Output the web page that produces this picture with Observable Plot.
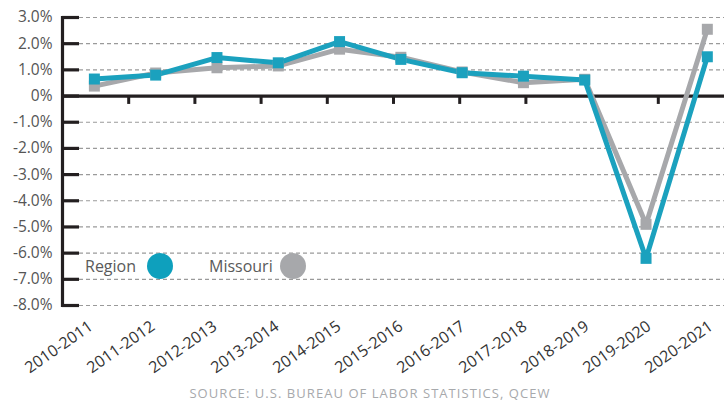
<!DOCTYPE html>
<html>
<head>
<meta charset="utf-8">
<script src="https://cdn.jsdelivr.net/npm/d3@7"></script>
<script src="https://cdn.jsdelivr.net/npm/@observablehq/plot@0.6"></script>
<style>
  html, body { margin: 0; padding: 0; background: #fff; }
  #wrap { position: relative; width: 724px; height: 403px; font-family: "Open Sans", sans-serif; overflow: hidden; }
  #main svg, #labels svg { display: block; overflow: visible; }
  .legend { position: absolute; top: 253px; left: 0; height: 26px; font-size: 16px; color: #5a5a5a; }
  .legend .item { position: absolute; top: 0; white-space: nowrap; line-height: 26px; }
  .legend .sw { position: absolute; top: 0; width: 26px; height: 26px; border-radius: 50%; }
  #caption { position: absolute; left: 0; top: 382px; width: 724px; text-align: center; font-size: 13px; color: #a7a9ac; letter-spacing: 1.05px; padding-left: 16px; box-sizing: border-box; line-height: 22px; }
</style>
</head>
<body>
<div id="wrap">
  <div id="main"></div>
  <div id="labels"></div>
  <div id="caption"></div>
  <div class="legend" id="legend"></div>
</div>
<script>
// ---- data ----
const periods = ["2010-2011","2011-2012","2012-2013","2013-2014","2014-2015","2015-2016","2016-2017","2017-2018","2018-2019","2019-2020","2020-2021"];
const regionValues = [0.65, 0.80, 1.47, 1.27, 2.08, 1.40, 0.89, 0.76, 0.61, -6.2, 1.5];
const missouriValues = [0.38, 0.88, 1.08, 1.15, 1.79, 1.48, 0.92, 0.51, 0.64, -4.9, 2.55];
const seriesNames = ["Region", "Missouri"];
const seriesColors = ["#1ba1be", "#a7a8ab"];
const legendColors = ["#0ea0bd", "#a7a8ab"];
const yTickValues = [3, 2, 1, 0, -1, -2, -3, -4, -5, -6, -7, -8];
const yTickLabels = ["3.0%","2.0%","1.0%","0%","-1.0%","-2.0%","-3.0%","-4.0%","-5.0%","-6.0%","-7.0%","-8.0%"];
const captionText = "SOURCE: U.S. BUREAU OF LABOR STATISTICS, QCEW";

// ---- build table ----
const rows = [];
periods.forEach((p, i) => {
  rows.push({series: "Missouri", i, period: p, value: missouriValues[i]});
});
periods.forEach((p, i) => {
  rows.push({series: "Region", i, period: p, value: regionValues[i]});
});
const colorOf = s => seriesColors[seriesNames.indexOf(s)];

const xd0 = -0.52, xd1 = 10.28;        // index domain of the plot frame
const nBands = 10;
const xTicks = d3.range(1, nBands).map(k => xd0 + k * (xd1 - xd0) / nBands);
const tickLabel = d => yTickLabels[yTickValues.indexOf(d)];
const gridValues = yTickValues.filter(d => d !== 0);

const main = Plot.plot({
  width: 724,
  height: 318,
  marginTop: 17,
  marginBottom: 13,
  marginLeft: 62,
  marginRight: 0,
  x: {type: "linear", domain: [xd0, xd1], axis: null},
  y: {domain: [-8, 3], axis: null},
  style: {fontFamily: "Open Sans, sans-serif"},
  marks: [
    Plot.ruleY(gridValues, {stroke: "#9a9a9a", strokeWidth: 1.2, strokeDasharray: "4,3", insetLeft: 17}),
    Plot.ruleY(yTickValues, {stroke: "#231f20", strokeWidth: 3.2, insetRight: 662 - 17}),
    Plot.axisY(yTickValues, {anchor: "left", label: null, tickSize: 0, tickPadding: 10, tickFormat: tickLabel, fontSize: 15.5, fill: "#555", color: "#555"}),
    Plot.frame({anchor: "left", stroke: "#231f20", strokeWidth: 3.2}),
    Plot.ruleY([0], {stroke: "#231f20", strokeWidth: 3.2}),
    Plot.ruleX(xTicks, {y1: 0, y2: -0.32, stroke: "#231f20", strokeWidth: 3}),
    Plot.line(rows, {x: "i", y: "value", z: "series", stroke: d => colorOf(d.series), strokeWidth: 5, strokeLinejoin: "miter"}),
    Plot.dot(rows, {x: "i", y: "value", fill: d => colorOf(d.series), symbol: "square", r: 6.2, stroke: "none"})
  ]
});
document.getElementById("main").appendChild(main);

const labels = Plot.plot({
  width: 724,
  height: 62,
  margin: 0,
  x: {type: "point", domain: periods, range: [84, 710], padding: 0, axis: null},
  y: {axis: null},
  marks: [
    Plot.text(periods, {x: d => d, frameAnchor: "top", dy: 1, rotate: -35, textAnchor: "end", lineAnchor: "top", fontSize: 16, fill: "#333", fontFamily: "Open Sans, sans-serif"})
  ]
});
document.getElementById("labels").appendChild(labels);
document.getElementById("caption").textContent = captionText;

// legend (HTML overlay)
const legend = document.getElementById("legend");
const legendLayout = [{text: 85, sw: 147}, {text: 209, sw: 280}];
seriesNames.forEach((name, k) => {
  const t = document.createElement("div");
  t.className = "item";
  t.style.left = legendLayout[k].text + "px";
  t.textContent = name;
  legend.appendChild(t);
  const s = document.createElement("div");
  s.className = "sw";
  s.style.left = legendLayout[k].sw + "px";
  s.style.background = legendColors[k];
  legend.appendChild(s);
});
</script>
</body>
</html>
